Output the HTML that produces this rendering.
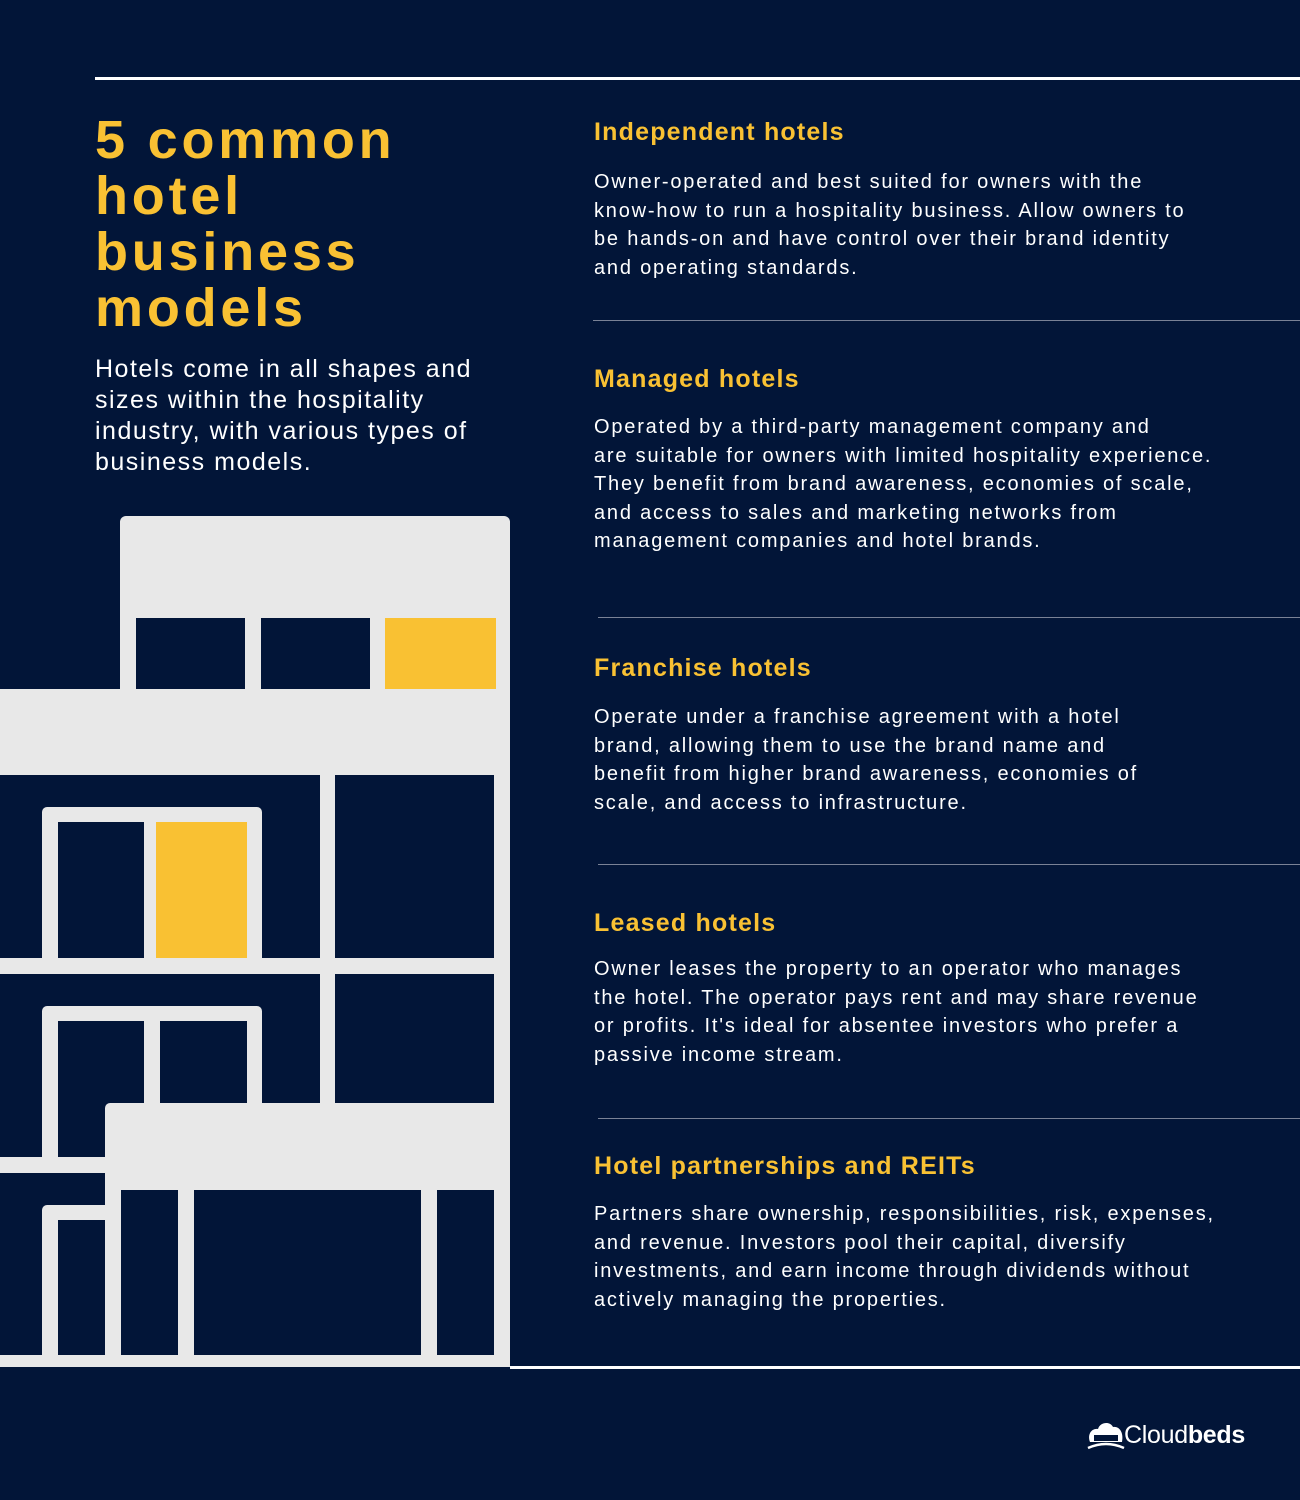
<!DOCTYPE html>
<html><head><meta charset="utf-8"><style>
*{margin:0;padding:0;box-sizing:border-box}
body{width:1300px;height:1500px;background:#021538;position:relative;overflow:hidden;font-family:"Liberation Sans",sans-serif;color:#fff}
.a{position:absolute}
.l{background:#e8e8e8}
.n{background:#021538}
.y{background:#f9c133}
h1{position:absolute;left:95px;top:112px;font-size:54px;line-height:56px;color:#f9c133;font-weight:bold;letter-spacing:3.8px;white-space:nowrap}
.sub{left:95px;top:354px;font-size:25px;line-height:31px;letter-spacing:1.5px;white-space:nowrap}
.h{left:594px;font-size:25px;color:#f9c133;letter-spacing:1.2px;white-space:nowrap;font-weight:bold}
.p{left:594px;font-size:20px;line-height:28.5px;letter-spacing:1.8px;white-space:nowrap}
.sep{left:595px;right:0;height:1px;background:#7a8296}
</style></head><body>
<div class="a" style="left:95px;top:77px;width:1205px;height:3px;background:#fff"></div>
<h1>5 common<br>hotel<br>business<br>models</h1>
<div class="a sub">Hotels come in all shapes and<br>sizes within the hospitality<br>industry, with various types of<br>business models.</div>

<div class="a l" style="left:120px;top:516px;width:390px;height:851px;border-radius:6px 6px 0 0"></div>
<div class="a l" style="left:0;top:689px;width:510px;height:678px"></div>
<div class="a n" style="left:136px;top:618px;width:109px;height:71px"></div>
<div class="a n" style="left:261px;top:618px;width:109px;height:71px"></div>
<div class="a y" style="left:385px;top:618px;width:111px;height:71px"></div>
<div class="a n" style="left:0;top:775px;width:320px;height:183px"></div>
<div class="a n" style="left:335px;top:775px;width:159px;height:183px"></div>
<div class="a l" style="left:42px;top:807px;width:220px;height:151px;border-radius:5px 5px 0 0"></div>
<div class="a n" style="left:58px;top:822px;width:86px;height:136px"></div>
<div class="a y" style="left:156px;top:822px;width:91px;height:136px"></div>
<div class="a n" style="left:0;top:974px;width:320px;height:183px"></div>
<div class="a n" style="left:335px;top:974px;width:159px;height:129px"></div>
<div class="a l" style="left:42px;top:1006px;width:220px;height:151px;border-radius:5px 5px 0 0"></div>
<div class="a n" style="left:58px;top:1021px;width:86px;height:136px"></div>
<div class="a n" style="left:160px;top:1021px;width:87px;height:82px"></div>
<div class="a l" style="left:105px;top:1103px;width:405px;height:100px;border-radius:5px 0 0 0"></div>
<div class="a n" style="left:0;top:1173px;width:105px;height:182px"></div>
<div class="a l" style="left:42px;top:1205px;width:63px;height:150px;border-radius:5px 0 0 0"></div>
<div class="a n" style="left:58px;top:1220px;width:47px;height:135px"></div>
<div class="a n" style="left:121px;top:1190px;width:57px;height:165px"></div>
<div class="a n" style="left:194px;top:1190px;width:227px;height:165px"></div>
<div class="a n" style="left:437px;top:1190px;width:57px;height:165px"></div>
<div class="a" style="left:510px;top:1366px;width:790px;height:3px;background:#fff"></div>

<div class="a h" style="top:118px">Independent hotels</div>
<div class="a p" style="top:168px">Owner-operated and best suited for owners with the<br>know-how to run a hospitality business. Allow owners to<br>be hands-on and have control over their brand identity<br>and operating standards.</div>
<div class="a sep" style="top:320px;left:593px"></div>
<div class="a h" style="top:365px">Managed hotels</div>
<div class="a p" style="top:413px">Operated by a third-party management company and<br>are suitable for owners with limited hospitality experience.<br>They benefit from brand awareness, economies of scale,<br>and access to sales and marketing networks from<br>management companies and hotel brands.</div>
<div class="a sep" style="top:617px;left:598px"></div>
<div class="a h" style="top:654px">Franchise hotels</div>
<div class="a p" style="top:703px">Operate under a franchise agreement with a hotel<br>brand, allowing them to use the brand name and<br>benefit from higher brand awareness, economies of<br>scale, and access to infrastructure.</div>
<div class="a sep" style="top:864px;left:598px"></div>
<div class="a h" style="top:909px">Leased hotels</div>
<div class="a p" style="top:955px">Owner leases the property to an operator who manages<br>the hotel. The operator pays rent and may share revenue<br>or profits. It's ideal for absentee investors who prefer a<br>passive income stream.</div>
<div class="a sep" style="top:1118px;left:598px"></div>
<div class="a h" style="top:1152px">Hotel partnerships and REITs</div>
<div class="a p" style="top:1200px">Partners share ownership, responsibilities, risk, expenses,<br>and revenue. Investors pool their capital, diversify<br>investments, and earn income through dividends without<br>actively managing the properties.</div>

<svg class="a" style="left:1086px;top:1420px" width="40" height="32" viewBox="0 0 40 32">
<path d="M4 22 C1 14 6 8 12 9 C14 2 24 1 27 7 C33 6 38 12 36 22 Z" fill="#fff"/>
<rect x="8" y="15" width="24" height="6" fill="#021538"/>
<path d="M2 28 Q20 20 38 28" stroke="#fff" stroke-width="2.5" fill="none"/>
</svg>
<div class="a" style="left:1124px;top:1421px;font-size:25px;letter-spacing:-0.3px">Cloud<b>beds</b></div>
</body></html>
